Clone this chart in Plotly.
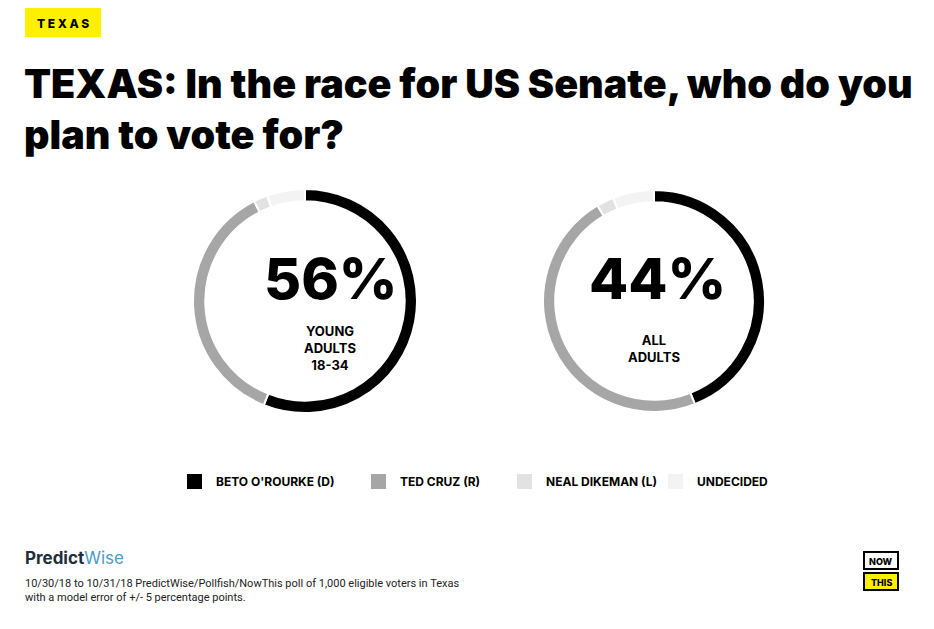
import plotly.graph_objects as go

candidates = ["BETO O'ROURKE (D)", "TED CRUZ (R)", "NEAL DIKEMAN (L)", "UNDECIDED"]
colors = ["#000000", "#a6a6a6", "#e2e2e2", "#f3f3f3"]
young_adults = [56, 36.5, 2, 5.5]
all_adults = [44, 47.5, 2.5, 6]
groups = ["YOUNG<br>ADULTS<br>18-34", "ALL<br>ADULTS"]
headline = [56, 44]

# page has an 8px body margin, so the figure is drawn a bit smaller
OFF = 8
W, H = 934 - 2 * OFF, 629 - 2 * OFF
fig = go.Figure()


def px_x(v):
    return (v - OFF) / W


def px_y(v):
    return 1 - (v - OFF) / H


# donuts
for vals, (x0, x1) in [(young_adults, (193, 417)), (all_adults, (543, 765))]:
    fig.add_trace(go.Pie(
        labels=candidates, values=vals, sort=False, direction="clockwise", rotation=0,
        hole=0.89, marker=dict(colors=colors, line=dict(color="white", width=2)),
        textinfo="none", hoverinfo="label+percent", showlegend=False,
        domain=dict(x=[px_x(x0), px_x(x1)], y=[px_y(413), px_y(189)])
    ))

font = "Inter"
anns = []
for cx, pct in [(331, headline[0]), (657, headline[1])]:
    anns.append(dict(x=px_x(cx), y=px_y(278), text=f"{pct}%",
                     font=dict(family=font, size=57, color="black", weight=800)))
for cx, grp, gy in [(330, groups[0], 348), (654, groups[1], 348)]:
    anns.append(dict(x=px_x(cx), y=px_y(gy), text=grp, align="center",
                     font=dict(family=font, size=13, color="black", weight=700)))

# header
anns.append(dict(x=px_x(63), y=px_y(23), text="T E X A S",
                 font=dict(family=font, size=12, color="black", weight=800)))
anns.append(dict(x=px_x(22), y=px_y(110), xanchor="left", align="left",
                 text="TEXAS: In the race for US Senate, who do you<br>plan to vote for?",
                 font=dict(family=font, size=39.5, color="black", weight=900)))

# legend
shapes = [dict(type="rect", xref="paper", yref="paper", x0=px_x(25), x1=px_x(101),
               y0=px_y(37), y1=px_y(8), fillcolor="#ffef00", line=dict(width=0))]
leg_x = [187, 371, 517, 668]
for lx, name, c in zip(leg_x, candidates, colors):
    shapes.append(dict(type="rect", xref="paper", yref="paper", x0=px_x(lx), x1=px_x(lx + 15),
                       y0=px_y(489), y1=px_y(474), fillcolor=c, line=dict(width=0)))
    anns.append(dict(x=px_x(lx + 27), y=px_y(481), xanchor="left", text=name,
                     font=dict(family=font, size=12, color="black", weight=700)))

# footer
anns.append(dict(x=px_x(23), y=px_y(558), xanchor="left",
                 text="<b>Predict</b><span style='color:#4a9cc9'>Wise</span>",
                 font=dict(family=font, size=17, color="#1f2d3d")))
anns.append(dict(x=px_x(23), y=px_y(590), xanchor="left", align="left",
                 text="10/30/18 to 10/31/18 PredictWise/Pollfish/NowThis poll of 1,000 eligible voters in Texas<br>with a model error of +/- 5 percentage points.",
                 font=dict(family="Roboto", size=11, color="#222")))
shapes.append(dict(type="rect", xref="paper", yref="paper", x0=px_x(864), x1=px_x(898),
                   y0=px_y(569), y1=px_y(552), fillcolor="white", line=dict(color="black", width=2)))
shapes.append(dict(type="rect", xref="paper", yref="paper", x0=px_x(864), x1=px_x(898),
                   y0=px_y(590), y1=px_y(573), fillcolor="#ffef00", line=dict(color="black", width=2)))
anns.append(dict(x=px_x(881), y=px_y(561), text="NOW",
                 font=dict(family=font, size=9, color="black", weight=800)))
anns.append(dict(x=px_x(881), y=px_y(582), text="THIS",
                 font=dict(family=font, size=9, color="black", weight=800)))

for a in anns:
    a.setdefault("xref", "paper")
    a.setdefault("yref", "paper")
    a.setdefault("xanchor", "center")
    a.setdefault("yanchor", "middle")
    a["showarrow"] = False

fig.update_layout(width=W, height=H, margin=dict(l=0, r=0, t=0, b=0),
                  paper_bgcolor="white", plot_bgcolor="white",
                  annotations=anns, shapes=shapes)
fig.write_html("out.html")
